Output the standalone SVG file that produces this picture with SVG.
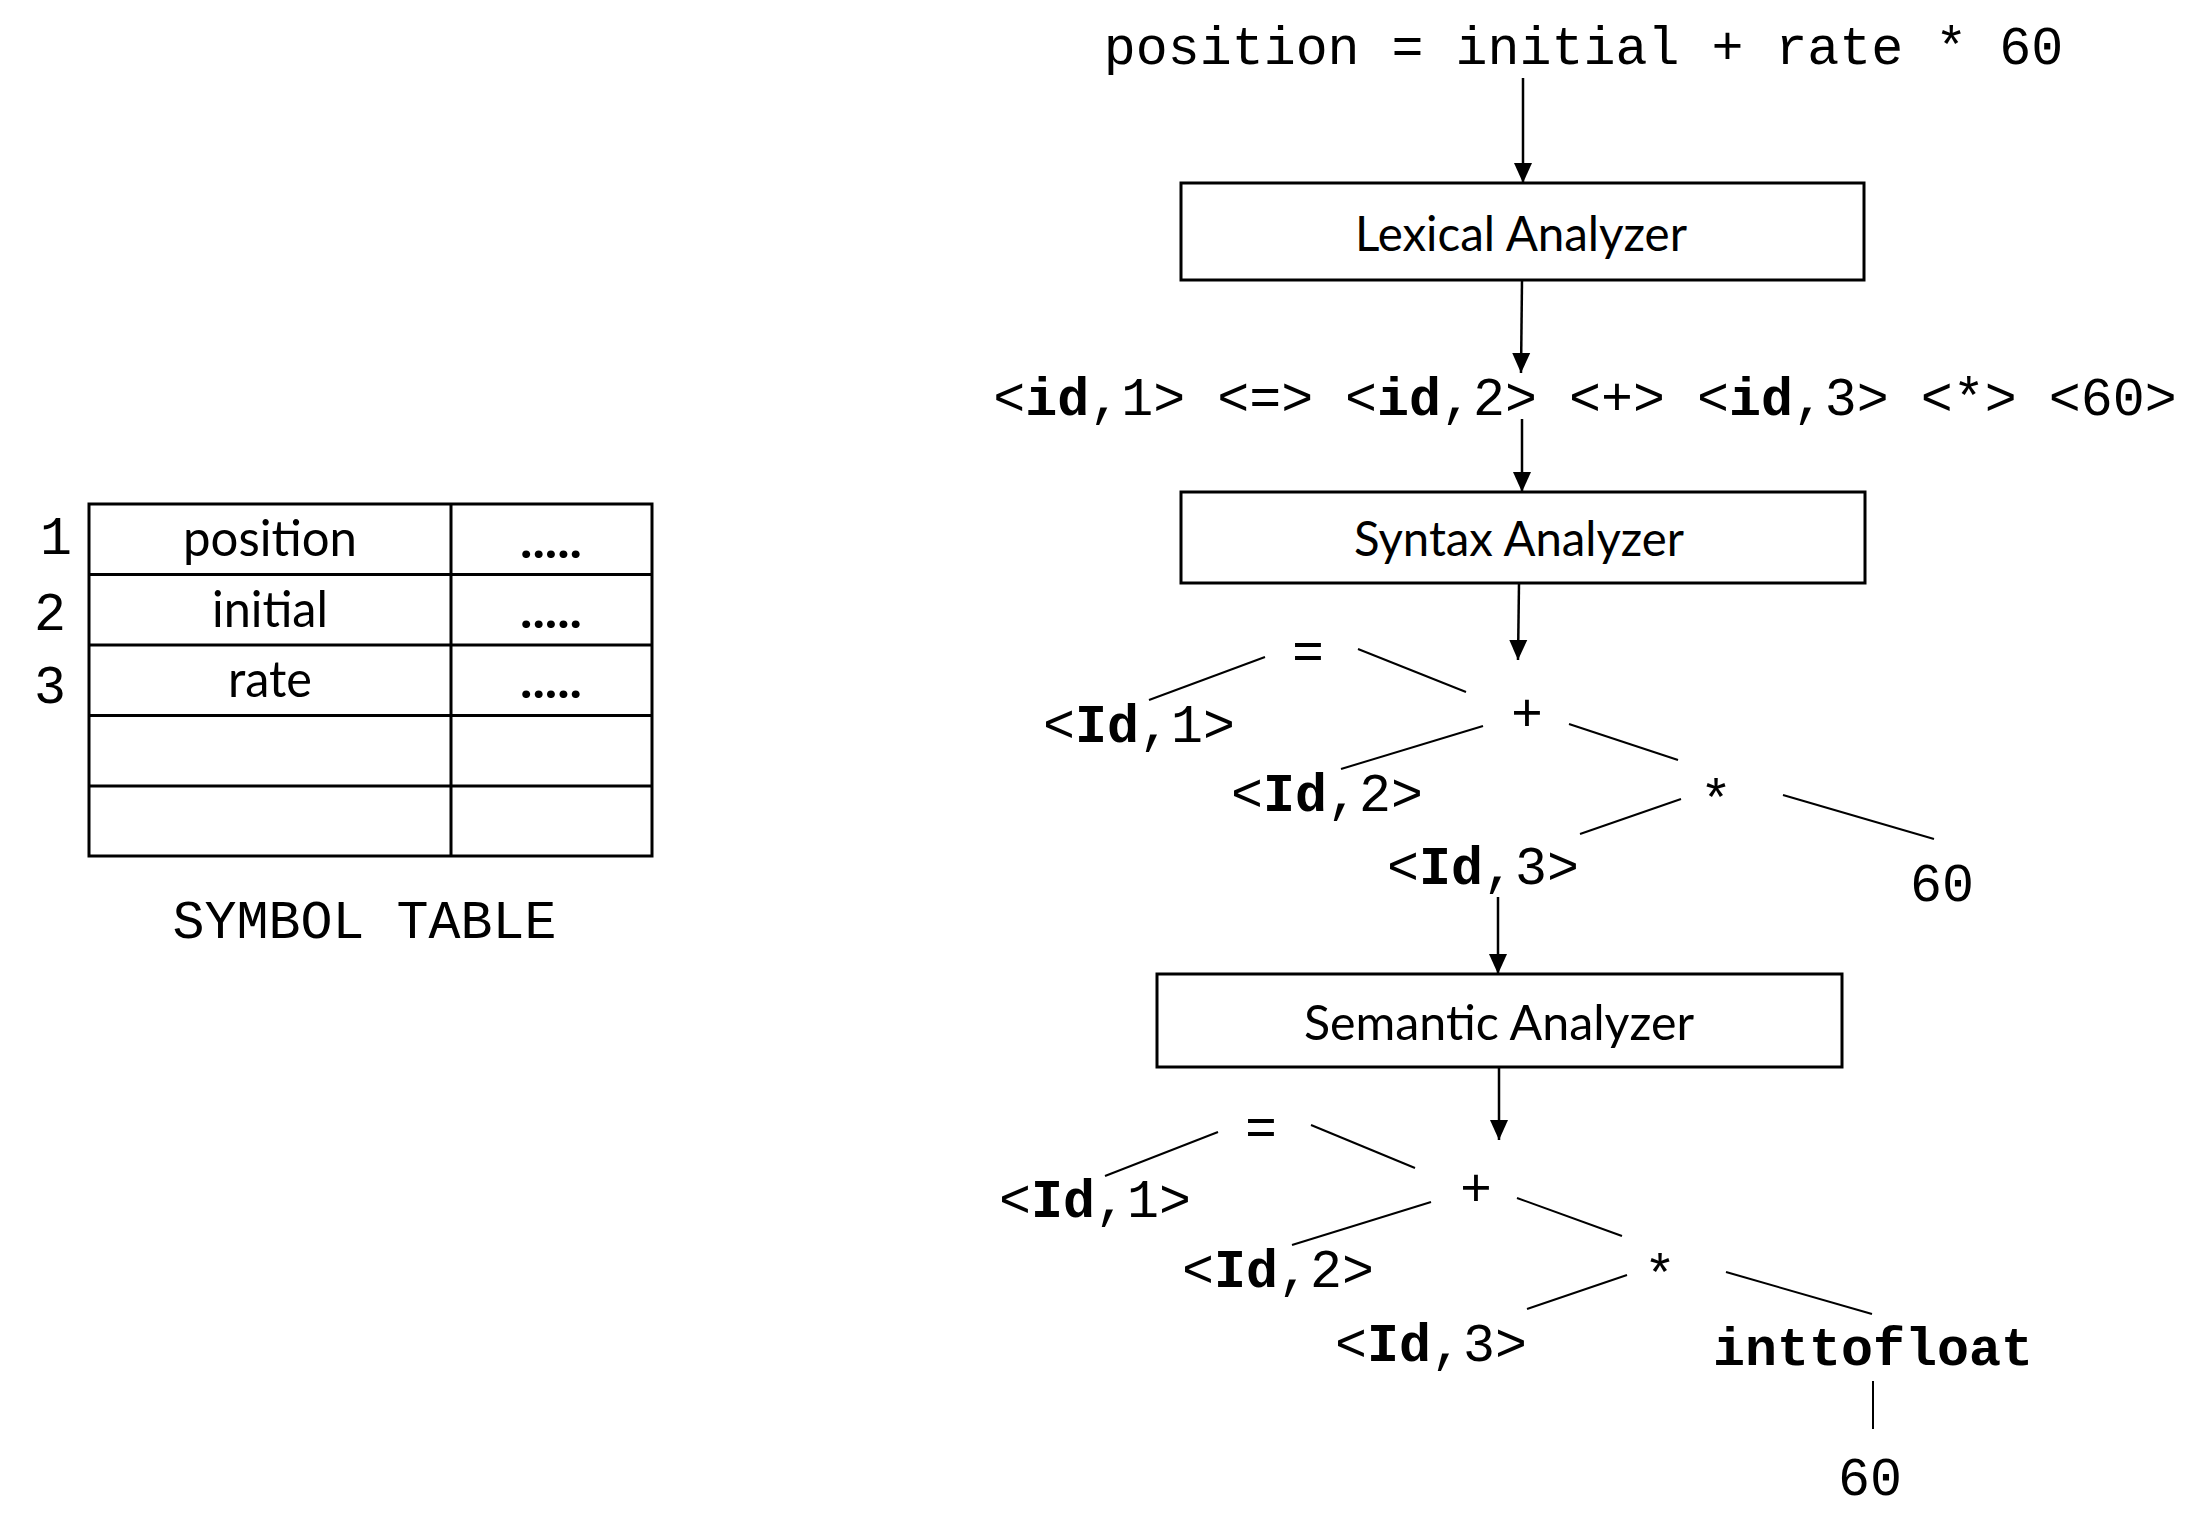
<svg xmlns="http://www.w3.org/2000/svg" width="2212" height="1530" viewBox="0 0 2212 1530">
<defs>
<marker id="ah" markerUnits="userSpaceOnUse" markerWidth="20" markerHeight="20" viewBox="0 0 20 20" refX="20" refY="10" orient="auto"><path d="M0,1 L20,10 L0,19 z" fill="#000"/></marker>
</defs>
<style>
.mono{font-family:"Liberation Mono","Courier New",monospace;font-size:53.3px;fill:#000}
.b{font-weight:bold}
.lbl{font-family:Lato,"Open Sans",sans-serif;font-size:48px;fill:#000}
.cell{font-family:Lato,"Open Sans",sans-serif;font-size:50px;fill:#000}
.box{fill:#fff;stroke:#000;stroke-width:3}
.arr{stroke:#000;stroke-width:2.5;fill:none;marker-end:url(#ah)}
.edge{stroke:#000;stroke-width:2;fill:none}
.grid{stroke:#000;stroke-width:3;fill:none}
</style>
<rect width="2212" height="1530" fill="#fff"/>

<g id="source"><text class="mono" x="1583.5" y="64" text-anchor="middle">position = initial + rate * 60</text></g>

<g id="lexical"><rect class="box" x="1181" y="183" width="683" height="97"/><text class="lbl" x="1521" y="251" text-anchor="middle" textLength="332" lengthAdjust="spacingAndGlyphs">Lexical Analyzer</text></g>

<g id="tokens"><text class="mono" x="1585" y="415" text-anchor="middle">&lt;<tspan class="b">id</tspan>,1&gt; &lt;=&gt; &lt;<tspan class="b">id</tspan>,2&gt; &lt;+&gt; &lt;<tspan class="b">id</tspan>,3&gt; &lt;*&gt; &lt;60&gt;</text></g>

<g id="syntax"><rect class="box" x="1181" y="492" width="684" height="91"/><text class="lbl" x="1519" y="556" text-anchor="middle" textLength="330" lengthAdjust="spacingAndGlyphs">Syntax Analyzer</text></g>

<g id="tree1">
<text class="mono" x="1308" y="669" text-anchor="middle">=</text>
<text class="mono" x="1139" y="742" text-anchor="middle">&lt;<tspan class="b">Id</tspan>,1&gt;</text>
<text class="mono" x="1527" y="731" text-anchor="middle">+</text>
<text class="mono" x="1327" y="811" text-anchor="middle">&lt;<tspan class="b">Id</tspan>,2&gt;</text>
<text class="mono" x="1716" y="817" text-anchor="middle">*</text>
<text class="mono" x="1483" y="884" text-anchor="middle">&lt;<tspan class="b">Id</tspan>,3&gt;</text>
<text class="mono" x="1942" y="901" text-anchor="middle">60</text>
</g>

<g id="semantic"><rect class="box" x="1157" y="974" width="685" height="93"/><text class="lbl" x="1499" y="1040" text-anchor="middle" textLength="390" lengthAdjust="spacingAndGlyphs">Semantic Analyzer</text></g>

<g id="tree2">
<text class="mono" x="1261" y="1145" text-anchor="middle">=</text>
<text class="mono" x="1095" y="1217" text-anchor="middle">&lt;<tspan class="b">Id</tspan>,1&gt;</text>
<text class="mono" x="1476" y="1206" text-anchor="middle">+</text>
<text class="mono" x="1278" y="1287" text-anchor="middle">&lt;<tspan class="b">Id</tspan>,2&gt;</text>
<text class="mono" x="1660" y="1292" text-anchor="middle">*</text>
<text class="mono" x="1431" y="1361" text-anchor="middle">&lt;<tspan class="b">Id</tspan>,3&gt;</text>
<text class="mono b" x="1873" y="1365" text-anchor="middle">inttofloat</text>
<text class="mono" x="1870" y="1495" text-anchor="middle">60</text>
</g>

<g id="symbol-table">
<rect class="grid" x="89" y="504" width="563" height="352"/>
<line class="grid" x1="451" y1="504" x2="451" y2="856"/>
<line class="grid" x1="89" y1="574.5" x2="652" y2="574.5"/>
<line class="grid" x1="89" y1="645" x2="652" y2="645"/>
<line class="grid" x1="89" y1="715.5" x2="652" y2="715.5"/>
<line class="grid" x1="89" y1="786" x2="652" y2="786" stroke-width="5"/>
<text class="mono" x="56" y="554" text-anchor="middle">1</text>
<text class="mono" x="50" y="630" text-anchor="middle">2</text>
<text class="mono" x="50" y="703" text-anchor="middle">3</text>
<text class="cell" x="270" y="556" text-anchor="middle" textLength="174" lengthAdjust="spacingAndGlyphs">position</text>
<text class="cell" x="270" y="627" text-anchor="middle" textLength="116" lengthAdjust="spacingAndGlyphs">initial</text>
<text class="cell" x="270" y="697" text-anchor="middle" textLength="84" lengthAdjust="spacingAndGlyphs">rate</text>
<text class="cell b" x="551" y="558" text-anchor="middle" textLength="62" lengthAdjust="spacingAndGlyphs">.....</text>
<text class="cell b" x="551" y="628" text-anchor="middle" textLength="62" lengthAdjust="spacingAndGlyphs">.....</text>
<text class="cell b" x="551" y="698" text-anchor="middle" textLength="62" lengthAdjust="spacingAndGlyphs">.....</text>
<text class="mono" x="364.5" y="938" text-anchor="middle">SYMBOL TABLE</text>
</g>

<g id="connectors">
<line class="arr" x1="1523" y1="78" x2="1523" y2="183"/>
<line class="arr" x1="1522" y1="280" x2="1521" y2="373"/>
<line class="arr" x1="1522" y1="419" x2="1522" y2="492"/>
<line class="arr" x1="1519" y1="583" x2="1518" y2="660"/>
<line class="arr" x1="1498" y1="897" x2="1498" y2="974"/>
<line class="arr" x1="1499" y1="1067" x2="1499" y2="1140"/>
<line class="edge" x1="1265" y1="657" x2="1149" y2="700"/>
<line class="edge" x1="1358" y1="649" x2="1466" y2="692"/>
<line class="edge" x1="1483" y1="726" x2="1341" y2="769"/>
<line class="edge" x1="1569" y1="724" x2="1678" y2="760"/>
<line class="edge" x1="1681" y1="799" x2="1580" y2="834"/>
<line class="edge" x1="1783" y1="795" x2="1934" y2="839"/>
<line class="edge" x1="1218" y1="1132" x2="1105" y2="1176"/>
<line class="edge" x1="1311" y1="1125" x2="1415" y2="1168"/>
<line class="edge" x1="1431" y1="1202" x2="1292" y2="1245"/>
<line class="edge" x1="1517" y1="1198" x2="1622" y2="1236"/>
<line class="edge" x1="1627" y1="1275" x2="1527" y2="1309"/>
<line class="edge" x1="1726" y1="1272" x2="1872" y2="1314"/>
<line class="edge" x1="1873" y1="1381" x2="1873" y2="1429"/>
</g>
</svg>
